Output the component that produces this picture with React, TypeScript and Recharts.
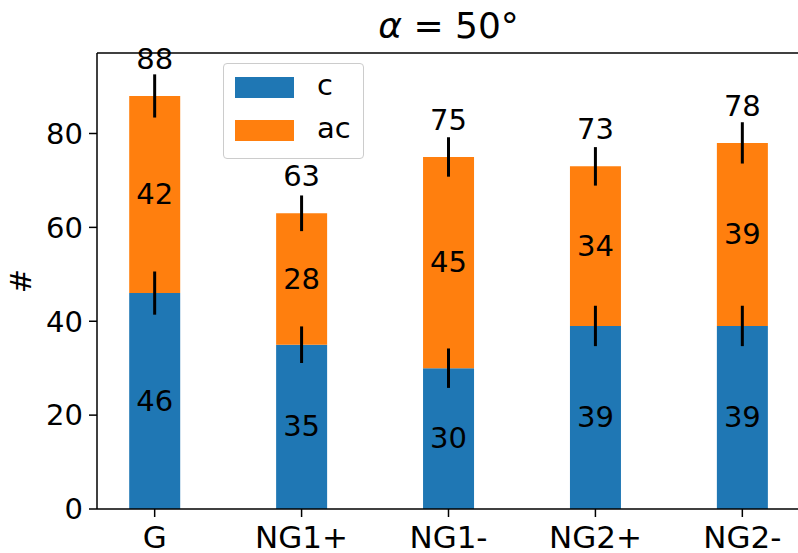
import React from "react";
import { ComposedChart, Bar, Line, XAxis, YAxis, ErrorBar, LabelList, Legend, ReferenceLine } from "recharts";

const categories = ["G", "NG1+", "NG1-", "NG2+", "NG2-"];
const seriesNames = ["c", "ac"];
const cValues = [46, 35, 30, 39, 39];
const acValues = [42, 28, 45, 34, 39];
const totals = [88, 63, 75, 73, 78];
const cErrors = [4.6, 3.9, 4.2, 4.3, 4.3];
const totalErrors = [4.6, 3.8, 4.2, 4.1, 4.4];
const yTicks = [0, 20, 40, 60, 80];
const yMax = 97.15;

const data = categories.map((name, i) => ({
  x: i,
  name,
  c: cValues[i],
  ac: acValues[i],
  total: totals[i],
  cErr: cErrors[i],
  totalErr: totalErrors[i],
}));

const FONT = "'DejaVu Sans', sans-serif";
const BLUE = "#1f77b4";
const ORANGE = "#ff7f0e";

// value label in the middle of a segment
const centerLabel = (props: any) => {
  const x = Number(props.x), y = Number(props.y), w = Number(props.width), h = Number(props.height);
  return (
    <text x={x + w / 2} y={y + h / 2 + 9.5} textAnchor="middle" fontSize={29} fill="#000" fontFamily={FONT}>
      {props.value}
    </text>
  );
};

// total above the stack
const totalLabel = (props: any) => {
  const x = Number(props.x), y = Number(props.y), w = Number(props.width);
  return (
    <text x={x + w / 2} y={y - 27} textAnchor="middle" fontSize={29} fill="#000" fontFamily={FONT}>
      {props.value}
    </text>
  );
};

const yLabel = (props: any) => {
  const vb = props.viewBox || {};
  const cy = Number(vb.y) + Number(vb.height) / 2;
  return (
    <text x={21} y={cy} transform={`rotate(-90, 21, ${cy})`} textAnchor="middle" dominantBaseline="central" fontSize={29} fill="#000" fontFamily={FONT}>
      #
    </text>
  );
};

// legend: only the two bar series, c first
const legendContent = (props: any) => {
  const payload = (props.payload || []).filter((p: any) => p.type !== "none");
  const items = seriesNames
    .map((n) => payload.find((p: any) => p.value === n))
    .filter(Boolean);
  return (
    <div style={{ width: 139, height: 94, border: "1px solid #cccccc", borderRadius: 4, background: "rgba(255,255,255,0.8)", position: "relative", fontFamily: FONT }}>
      {items.map((p: any, i: number) => (
        <div key={p.value} style={{ position: "absolute", left: 11, top: 13 + i * 43, height: 21, display: "flex", alignItems: "center" }}>
          <div style={{ width: 59, height: 21, background: p.color }} />
          <span style={{ marginLeft: 23, fontSize: 29, lineHeight: "21px", position: "relative", top: -2, color: "#000" }}>{p.value}</span>
        </div>
      ))}
    </div>
  );
};

export default function App() {
  return (
    <div style={{ position: "relative", width: 798, height: 553, overflow: "hidden", fontFamily: FONT, background: "#fff" }}>
      <style>{`body{margin:0}`}</style>
      <div style={{ position: "absolute", left: 97, top: 5, width: 703, textAlign: "center", fontSize: 36, lineHeight: "normal", color: "#000" }}>
        <span style={{ fontStyle: "italic" }}>α</span> = 50°
      </div>
      <ComposedChart width={802} height={553} data={data} margin={{ top: 53, right: 2, left: 0, bottom: 0 }}>
        <XAxis
          dataKey="x"
          type="number"
          domain={[-0.3925, 4.3925]}
          allowDataOverflow
          ticks={[0, 1, 2, 3, 4]}
          tickFormatter={(v: number) => categories[v]}
          height={44}
          tickSize={8}
          tickMargin={9}
          axisLine={{ stroke: "#000", strokeWidth: 1.5 }}
          tickLine={{ stroke: "#000", strokeWidth: 1.5 }}
          tick={{ fill: "#000", fontSize: 31, fontFamily: FONT }}
        />
        <YAxis
          domain={[0, yMax]}
          allowDataOverflow
          ticks={yTicks}
          width={97}
          tickSize={8}
          tickMargin={6}
          axisLine={{ stroke: "#000", strokeWidth: 1.5 }}
          tickLine={{ stroke: "#000", strokeWidth: 1.5 }}
          tick={{ fill: "#000", fontSize: 29, fontFamily: FONT }}
          label={yLabel}
        />
        <ReferenceLine y={yMax} stroke="#000" strokeWidth={1.5} ifOverflow="visible" />
        <Legend
          layout="vertical"
          align="center"
          verticalAlign="middle"
          content={legendContent}
          wrapperStyle={{ left: 223, top: 63, width: 141, height: 96 }}
        />
        <Bar dataKey="c" name="c" stackId="a" fill={BLUE} barSize={51} isAnimationActive={false}>
          <LabelList dataKey="c" content={centerLabel} />
        </Bar>
        <Bar dataKey="ac" name="ac" stackId="a" fill={ORANGE} barSize={51} isAnimationActive={false}>
          <LabelList dataKey="ac" content={centerLabel} />
          <LabelList dataKey="total" content={totalLabel} />
        </Bar>
        <Line dataKey="c" name="c-err" stroke="none" dot={false} activeDot={false} legendType="none" isAnimationActive={false}>
          <ErrorBar dataKey="cErr" direction="y" width={0} stroke="#000" strokeWidth={3} />
        </Line>
        <Line dataKey="total" name="total-err" stroke="none" dot={false} activeDot={false} legendType="none" isAnimationActive={false}>
          <ErrorBar dataKey="totalErr" direction="y" width={0} stroke="#000" strokeWidth={3} />
        </Line>
      </ComposedChart>
    </div>
  );
}
